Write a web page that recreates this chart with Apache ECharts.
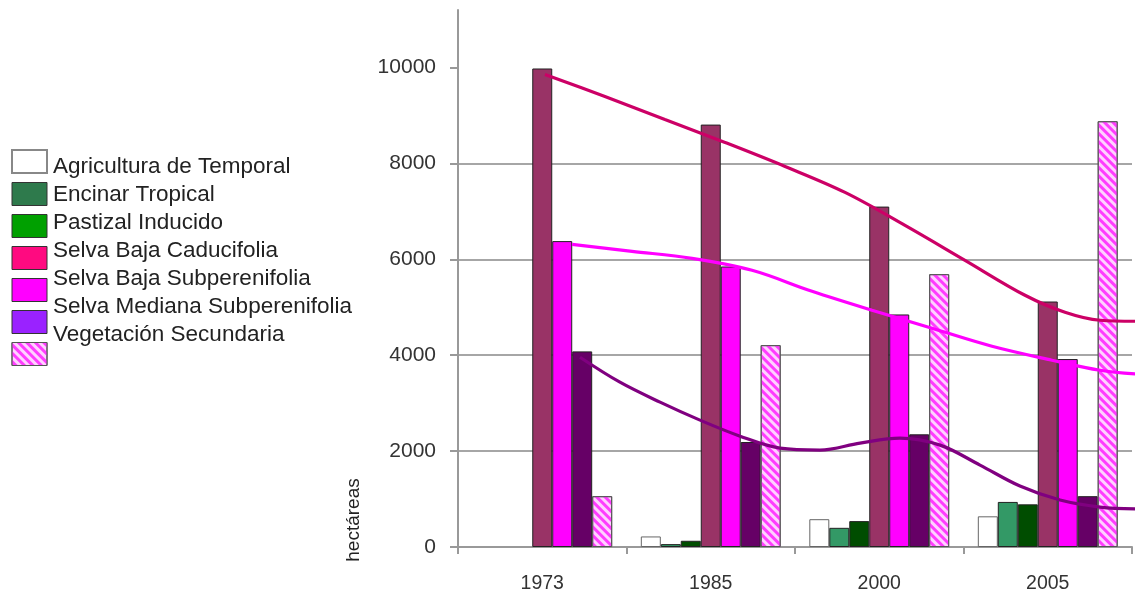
<!DOCTYPE html>
<html>
<head>
<meta charset="utf-8">
<script src="https://cdn.jsdelivr.net/npm/echarts@6/dist/echarts.min.js"></script>
<style>
html,body{margin:0;padding:0;background:#fff;}
#chart{width:1138px;height:594px;}
</style>
</head>
<body>
<div id="chart"></div>
<script>
// ---- data ----
const categories = ['1973', '1985', '2000', '2005'];
const seriesNames = ['Agricultura de Temporal', 'Encinar Tropical', 'Pastizal Inducido',
  'Selva Baja Caducifolia', 'Selva Baja Subperenifolia', 'Selva Mediana Subperenifolia',
  'Vegetación Secundaria'];
const agricultura = [0, 220, 580, 640];
const encinar = [0, 60, 400, 940];
const pastizal = [0, 130, 540, 890];
const caducifolia = [9980, 8810, 7100, 5120];
const subperenifolia = [6380, 5850, 4850, 3920];
const medianaSub = [4080, 2190, 2350, 1060];
const vegetacion = [1060, 4210, 5690, 8880];
const yTicks = [0, 2000, 4000, 6000, 8000, 10000];
// trend curves: [position in category units, hectáreas]
const trendCaducifolia = [[0.516, 9854], [0.872, 9396], [1.228, 8917], [1.585, 8437], [1.941, 7937],
  [2.297, 7396], [2.653, 6708], [3.009, 5979], [3.365, 5250], [3.602, 4896], [3.810, 4729], [4.036, 4708]];
const trendSubperenifolia = [[0.677, 6312], [1.033, 6167], [1.389, 6021], [1.745, 5771], [2.101, 5333],
  [2.457, 4937], [2.813, 4562], [3.169, 4187], [3.525, 3896], [3.810, 3687], [4.036, 3604]];
const trendMediana = [[0.724, 3958], [0.961, 3437], [1.199, 3021], [1.436, 2646], [1.674, 2312],
  [1.911, 2062], [2.148, 2021], [2.386, 2167], [2.623, 2271], [2.861, 2125], [3.098, 1708],
  [3.335, 1271], [3.573, 979], [3.810, 833], [4.036, 792]];

const FONT = 'Liberation Sans, Arial, sans-serif';
const hatch = {
  symbol: 'rect', symbolSize: 1, dashArrayX: [1, 0], dashArrayY: [3, 3],
  rotation: Math.PI / 4, color: '#ff3cff'
};
const barStyles = [
  { color: '#ffffff', borderColor: '#666', borderWidth: 1 },
  { color: '#339966', borderColor: '#222', borderWidth: 1 },
  { color: '#004d00', borderColor: '#222', borderWidth: 1 },
  { color: '#993366', borderColor: '#222', borderWidth: 1 },
  { color: '#ff00ff', borderColor: '#222', borderWidth: 1 },
  { color: '#660066', borderColor: '#222', borderWidth: 1 },
  { color: '#ffd2ff', borderColor: '#555', borderWidth: 1, decal: hatch }
];
const legendStyles = [
  { color: '#ffffff', borderColor: '#888', borderWidth: 2 },
  { color: '#2e7a4c', borderColor: '#333', borderWidth: 1 },
  { color: '#00a000', borderColor: '#333', borderWidth: 1 },
  { color: '#ff0a80', borderColor: '#333', borderWidth: 1 },
  { color: '#ff00ff', borderColor: '#333', borderWidth: 1 },
  { color: '#9a22ff', borderColor: '#333', borderWidth: 1 },
  { color: '#ffd2ff', borderColor: '#555', borderWidth: 1, decal: hatch }
];
const barData = [agricultura, encinar, pastizal, caducifolia, subperenifolia, medianaSub, vegetacion];

const series = seriesNames.map((n, i) => ({
  name: n, type: 'bar', xAxisIndex: 0, yAxisIndex: 0,
  data: barData[i].map(v => (v === 0 ? '-' : v)), barGap: '0%', barCategoryGap: '17%',
  itemStyle: barStyles[i], emphasis: { disabled: true }
}));
const trend = (data, color) => ({
  type: 'line', xAxisIndex: 1, yAxisIndex: 0, data: data, smooth: 0.35,
  showSymbol: false, clip: false, silent: true,
  lineStyle: { color: color, width: 3.2 }, z: 5
});
series.push(trend(trendCaducifolia, '#cc0066'));
series.push(trend(trendSubperenifolia, '#ff00ff'));
series.push(trend(trendMediana, '#800080'));

const chart = echarts.init(document.getElementById('chart'), null, { renderer: 'canvas' });
chart.setOption({
  animation: false,
  backgroundColor: '#ffffff',
  grid: { left: 458, right: 6, top: 10, bottom: 46, containLabel: false },
  legend: [
    {
      orient: 'vertical', left: 6, top: 144, itemWidth: 35, itemHeight: 23, itemGap: 8,
      icon: 'rect',
      data: seriesNames.map((n, i) => ({ name: n, itemStyle: legendStyles[i] })),
      formatter: () => '', selectedMode: false,
      textStyle: { fontSize: 1 }
    },
    {
      orient: 'vertical', left: 8, top: 150, itemWidth: 35, itemHeight: 14, itemGap: 5,
      icon: 'none', data: seriesNames, selectedMode: false,
      textStyle: { fontFamily: FONT, fontSize: 22.5, lineHeight: 22, color: '#222' }
    }
  ],
  xAxis: [
    {
      type: 'category', data: categories, boundaryGap: true,
      axisLine: { show: true, lineStyle: { color: '#999', width: 2 } },
      axisTick: { show: true, alignWithLabel: false, interval: 0, length: 7, lineStyle: { color: '#999', width: 2 } },
      axisLabel: { fontFamily: FONT, fontSize: 19.5, color: '#333', margin: 27 },
      splitLine: { show: false }
    },
    { type: 'value', min: 0, max: 4, show: false }
  ],
  yAxis: {
    type: 'value', min: 0, max: 11200, interval: 2000,
    axisLine: { show: true, lineStyle: { color: '#999', width: 2 } },
    axisTick: { show: true, length: 8, customValues: yTicks, lineStyle: { color: '#999', width: 2 } },
    axisLabel: { customValues: yTicks, formatter: v => String(v), fontFamily: FONT, fontSize: 21, color: '#333', margin: 22 },
    splitLine: { show: true, showMinLine: false, showMaxLine: false, lineStyle: { color: '#a6a6a6', width: 2 } }
  },
  graphic: [{
    type: 'text', x: 354, y: 520, rotation: Math.PI / 2,
    style: { text: 'hectáreas', fontFamily: FONT, fontSize: 19, fill: '#222',
      textAlign: 'center', textVerticalAlign: 'middle' }
  }],
  series: series
});
</script>
</body>
</html>
